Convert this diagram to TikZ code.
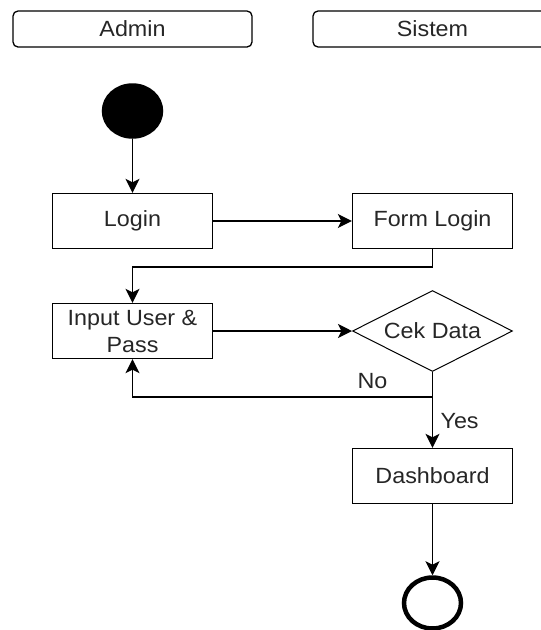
\documentclass[tikz,border=0pt]{standalone}
\usepackage{fontspec}
\setmainfont{Liberation Sans}[FakeStretch=1.06]
\usetikzlibrary{shapes.geometric,arrows.meta}
\begin{document}
\begin{tikzpicture}[x=1pt,y=1pt,node distance=110pt,line width=1.5pt,
		font=\fontsize{22}{27}\selectfont,text=black!85,
		>={Stealth[length=14pt,width=14pt,inset=3.5pt]},
		box/.style={draw,line width=1.3pt,minimum width=160pt,minimum height=55pt,inner sep=0pt,align=center},
		header/.style={draw,line width=1.3pt,rounded corners=5pt,minimum width=239pt,minimum height=36pt,inner sep=0pt},
		decision/.style={draw,diamond,aspect=2,line width=1pt,minimum width=160pt,minimum height=81pt,inner sep=0pt},
		startstate/.style={draw,ellipse,fill=black,minimum width=60pt,minimum height=54pt,inner sep=0pt},
		endstate/.style={draw,ellipse,line width=4.5pt,minimum width=57pt,minimum height=51pt,inner sep=0pt}]
		\useasboundingbox (0,0) rectangle (541,-630);
		\clip (0,0) rectangle (541,-630);
		
		\node (admin) [header] at (132.5,-29) {Admin};
		\node (sistem) [header, right of=admin, node distance=300pt] {Sistem};
		\node (start) [startstate] at (132.5,-111) {};
		\node (login) [box, below of=start] {Login};
		\node (formlogin) [box, right of=login, node distance=300pt] {Form Login};
		\node (input) [box, below of=login] {Input User \&\\Pass};
		\node (cek) [decision, right of=input, node distance=300pt] {Cek Data};
		\node (dash) [box, below of=cek, node distance=145pt] {Dashboard};
		\node (end) [endstate, below of=dash, node distance=127pt] {};
		
		\draw[->] (start) -- (login);
		\draw[->] (login) -- (formlogin);
		\draw[->] (formlogin.south) -- ++(0,-18) -| (input.north);
		\draw[->] (input) -- (cek);
		\draw[->] (cek.south) -- ++(0,-25) -| node[pos=0.1, above=4pt] {No} (input.south);
		\draw[->] (cek.south) -- node[pos=0.64, right=4pt] {Yes} (dash.north);
		\draw[->] (dash) -- (end);
	\end{tikzpicture}
\end{document}
